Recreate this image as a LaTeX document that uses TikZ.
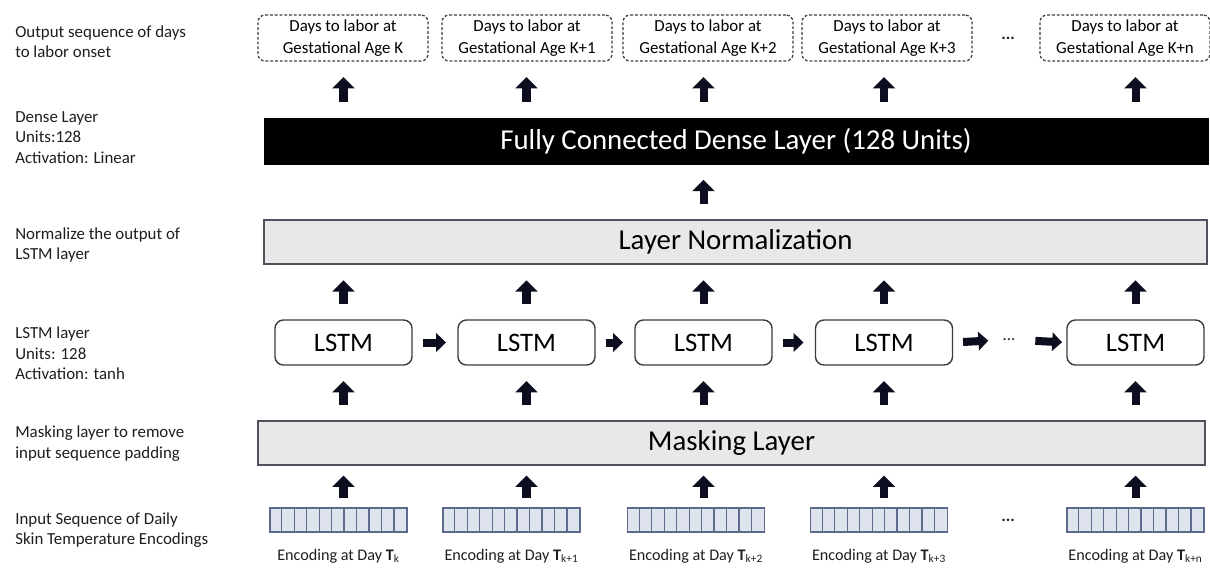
\documentclass[tikz,border=0pt]{standalone}
\usepackage{fontspec}
\setmainfont{Carlito}
\usetikzlibrary{arrows.meta,positioning}
\definecolor{arrowcol}{RGB}{12,14,32}
\definecolor{layerfill}{RGB}{232,232,233}
\definecolor{layerline}{RGB}{78,82,92}
\definecolor{boxline}{RGB}{60,60,62}
\definecolor{encfill}{RGB}{222,227,238}
\definecolor{encline}{RGB}{92,106,140}
\definecolor{textcol}{RGB}{30,30,30}

\begin{document}
\begin{tikzpicture}[x=0.025cm, y=-0.025cm,
  sidelabel/.style={anchor=west, align=left, inner sep=0pt, text=textcol, font=\fontsize{12}{14.5}\selectfont},
  outbox/.style={draw=boxline, dash pattern=on 2pt off 1.4pt, line width=0.9pt, rounded corners=5pt,
    minimum width=4.25cm, minimum height=1.15cm, align=center, inner sep=1pt, font=\fontsize{12}{15.5}\selectfont},
  densebar/.style={fill=black, draw=black, minimum width=23.6cm, minimum height=1.15cm, text=white,
    font=\fontsize{20.5}{24}\selectfont},
  layerbar/.style={fill=layerfill, draw=layerline, line width=1.2pt, minimum height=1.1cm,
    font=\fontsize{20.5}{24}\selectfont},
  lstmbox/.style={draw=boxline, line width=1pt, rounded corners=6pt, minimum width=3.425cm,
    minimum height=1.125cm, font=\fontsize{19}{22}\selectfont},
  encbar/.style={fill=encfill, draw=encline, line width=0.9pt, minimum width=3.425cm, minimum height=0.6cm, inner sep=0pt},
  enclabel/.style={text=textcol, font=\fontsize{11.5}{14}\selectfont},
  dotsnode/.style={inner sep=2pt, text=textcol, font=\bfseries\fontsize{12}{14}\selectfont},
  upflow/.style={draw=arrowcol, line width=5.7pt, -{Triangle[width=15.5pt,length=8pt]}, shorten <=11pt, shorten >=11pt},
  sideflow/.style={upflow, -{Triangle[width=13pt,length=7pt]}, shorten <=7pt, shorten >=8pt}
]
\useasboundingbox (0,0) rectangle (1210,568);

% descriptions on the left
\node[sidelabel] (txtout) at (15,42) {Output sequence of days\\to labor onset};
\node[sidelabel] (txtdense) at (15,137.5) {Dense Layer\\Units:128\\Activation: Linear};
\node[sidelabel] (txtnorm) at (15,245) {Normalize the output of\\LSTM layer};
\node[sidelabel] (txtlstm) at (15,353.5) {LSTM layer\\Units: 128\\Activation: tanh};
\node[sidelabel] (txtmask) at (15,443.5) {Masking layer to remove\\input sequence padding};
\node[sidelabel] (txtin) at (15,530) {Input Sequence of Daily\\Skin Temperature Encodings};

% outputs
\foreach \i/\x/\s in {1/343/K, 2/527/K+1, 3/708/K+2, 4/887/K+3, 5/1125/K+n}
  \node[outbox] (out\i) at (\x,38) {Days to labor at\\Gestational Age \s};
\node[dotsnode] (odots) at (1008,38) {...};

% layers
\node[densebar] (dense) at (736,141) {Fully Connected Dense Layer (128 Units)};
\node[layerbar, minimum width=23.575cm] (norm) at (735.5,242) {Layer Normalization};
\node[layerbar, minimum width=23.675cm] (mask) at (731.5,443) {Masking Layer};

\foreach \i/\x in {1/343.5, 2/526.5, 3/703.5, 4/884, 5/1135.5}
  \node[lstmbox] (lstm\i) at (\x,342.5) {LSTM};
\node[dotsnode, font=\fontsize{12}{14}\selectfont] (ldots) at (1009,340) {...};

% inputs
\foreach \i/\x/\s in {1/338.5/k, 2/511.5/k+1, 3/696/k+2, 4/879/k+3, 5/1135.5/k+n} {
  \node[encbar] (enc\i) at (\x,520) {};
  \foreach \c in {1,...,10}
    \draw[encline, line width=0.9pt] ([xshift=\c*0.31136cm]enc\i.south west) -- ([xshift=\c*0.31136cm]enc\i.north west);
  \node[enclabel, below=8pt of enc\i] (lab\i) {Encoding at Day \textbf{T}\textsubscript{\s}};
}
\node[dotsnode] (edots) at (1008,520) {...};

% arrows
\foreach \i in {1,...,5} {
  \draw[upflow] (dense.north -| lstm\i) -- (out\i.south -| lstm\i);
  \draw[upflow] (lstm\i.north) -- (norm.south -| lstm\i);
  \draw[upflow] (mask.north -| lstm\i) -- (lstm\i.south);
  \draw[upflow, shorten <=7pt, shorten >=7pt] (enc\i.north -| lstm\i) -- (mask.south -| lstm\i);
}
\draw[upflow] (norm.north -| lstm3) -- (dense.south -| lstm3);
\foreach \i/\j in {1/2, 2/3, 3/4}
  \draw[sideflow] (lstm\i.east) -- (lstm\j.west);
\draw[sideflow] (lstm4.east) -- (ldots.west);
\draw[sideflow, shorten <=12pt, shorten >=3pt] (ldots.east) -- (lstm5.west);
\end{tikzpicture}
\end{document}
